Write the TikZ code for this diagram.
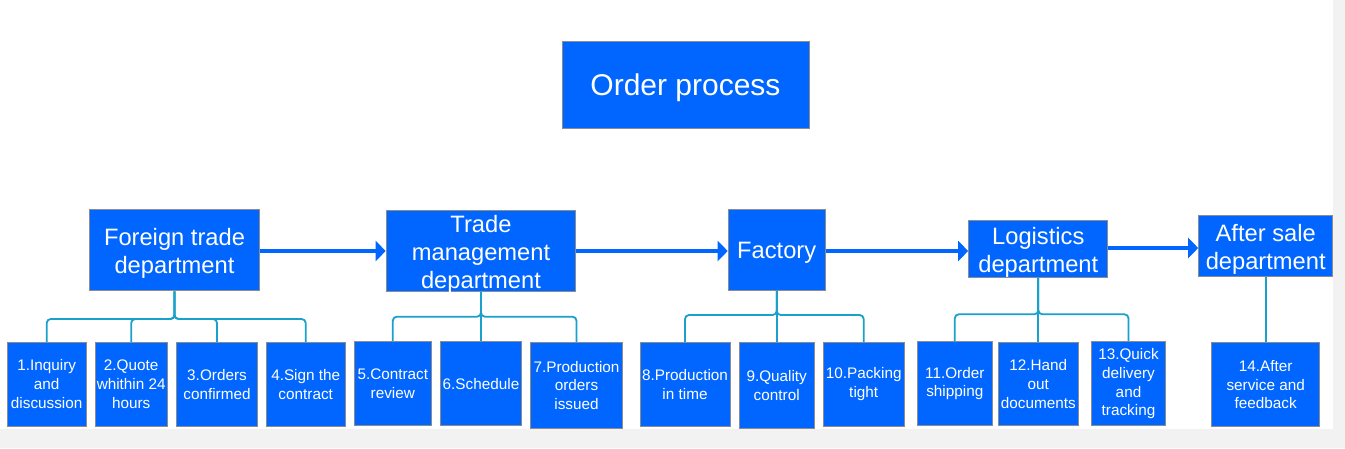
\documentclass[tikz,border=0pt]{standalone}
\usepackage{fontspec}
\setmainfont{Liberation Sans}
\usetikzlibrary{arrows.meta}
\definecolor{boxblue}{RGB}{0,102,255}
\definecolor{boxline}{RGB}{140,140,140}
\definecolor{conncol}{RGB}{25,160,205}
\definecolor{pagegray}{RGB}{242,242,242}
\newcommand{\dstrut}{\rule{0pt}{1.0em}}
\tikzset{
  bbox/.style={draw=boxline, line width=1pt, fill=boxblue, text=white, inner sep=0pt, align=center},
  titlebox/.style={bbox, font=\fontsize{30}{36}\selectfont},
  deptbox/.style={bbox, font=\fontsize{23.7}{28}\selectfont},
  depttext/.style={text=white, inner sep=0pt, align=center, font=\fontsize{23.7}{28}\selectfont},
  taskbox/.style={bbox, font=\fontsize{15.3}{18.7}\selectfont},
  conn/.style={draw=conncol, line width=1.8pt, rounded corners=4pt},
  flow/.style={draw=boxblue, line width=4.5pt, -{Triangle[length=10pt,width=20pt]}}
}
\begin{document}
\begin{tikzpicture}[x=1pt,y=-1pt]
\path[use as bounding box, fill=pagegray] (0,0) rectangle (1345,448);
\fill[white] (0,0) rectangle (1333,429);

% title
\node[titlebox, minimum width=247, minimum height=87] (title) at (685.5,84.5) {\rule{0pt}{0.93em}Order process};

% departments
\node[deptbox, minimum width=169.7, minimum height=81.7] (fd) at (174.5,249.9) {\dstrut Foreign trade\\department};
\node[deptbox, minimum width=189.7, minimum height=80.6] (tm) at (481,251) {};
\node[depttext] (tmlabel) at (481,254.5) {Trade\\management\\department};
\node[deptbox, minimum width=97, minimum height=81] (fa) at (776.7,249.5) {\dstrut Factory};
\node[deptbox, minimum width=139.3, minimum height=55.3] (lg) at (1038.3,248.7) {\dstrut Logistics\\department};
\node[deptbox, minimum width=134, minimum height=61.3] (as) at (1265.7,245.7) {\dstrut After sale\\department};

% flow arrows
\draw[flow] (fd.east |- 0,251) -- (tm.west |- 0,251);
\draw[flow] (tm.east |- 0,251) -- (fa.west |- 0,251);
\draw[flow] (fa.east |- 0,251) -- (lg.west |- 0,251);
\draw[flow] (lg.east |- 0,248) -- (as.west |- 0,248);

% tasks
\node[taskbox, minimum width=78.7, minimum height=83.7] (t1) at (46.7,384.2) {1.Inquiry\\and\\discussion};
\node[taskbox, minimum width=72.3, minimum height=83.7] (t2) at (131.2,384.2) {2.Quote\\whithin 24\\hours};
\node[taskbox, minimum width=80.6, minimum height=83.7] (t3) at (217,384.2) {3.Orders\\confirmed};
\node[taskbox, minimum width=78.7, minimum height=83.7] (t4) at (305.7,384.2) {4.Sign the\\contract};

\node[taskbox, minimum width=77, minimum height=84] (t5) at (392.8,383.7) {5.Contract\\review};
\node[taskbox, minimum width=81.4, minimum height=84] (t6) at (481,383.7) {6.Schedule};
\node[taskbox, minimum width=91.6, minimum height=86] (t7) at (576.5,385.3) {7.Production\\orders\\issued};

\node[taskbox, minimum width=90, minimum height=83.7] (t8) at (685,384.2) {8.Production\\in time};
\node[taskbox, minimum width=75, minimum height=86] (t9) at (776.7,385.3) {9.Quality\\control};
\node[taskbox, minimum width=80.7, minimum height=83.7] (t10) at (863.7,384.2) {10.Packing\\tight};

\node[taskbox, minimum width=75, minimum height=83.3] (t11) at (954.8,383.4) {11.Order\\shipping};
\node[taskbox, minimum width=79.4, minimum height=83] (t12) at (1038.3,384.2) {12.Hand\\out\\documents};
\node[taskbox, minimum width=74.4, minimum height=84.3] (t13) at (1128.5,383.8) {13.Quick\\delivery\\and\\tracking};

\node[taskbox, minimum width=107.6, minimum height=84] (t14) at (1265.7,384.7) {14.After\\service and\\feedback};

% connector bar levels
\coordinate (b1) at (0,319);
\coordinate (b2) at (0,316.7);
\coordinate (b3) at (0,315);
\coordinate (b4) at (0,314.3);

% foreign trade department
\draw[conn] (fd.south) |- (t1.north |- b1) -- (t1.north);
\draw[conn] (fd.south) |- (t2.north |- b1) -- (t2.north);
\draw[conn] (fd.south) |- (t3.north |- b1) -- (t3.north);
\draw[conn] (fd.south) |- (t4.north |- b1) -- (t4.north);

% trade management
\draw[conn] (tm.south) |- (t5.north |- b2) -- (t5.north);
\draw[conn] (tm.south) -- (t6.north);
\draw[conn] (tm.south) |- (t7.north |- b2) -- (t7.north);

% factory
\draw[conn] (fa.south) |- (t8.north |- b3) -- (t8.north);
\draw[conn] (fa.south) -- (t9.north);
\draw[conn] (fa.south) |- (t10.north |- b3) -- (t10.north);

% logistics
\draw[conn] (lg.south) |- (t11.north |- b4) -- (t11.north);
\draw[conn] (lg.south) -- (t12.north);
\draw[conn] (lg.south) |- (t13.north |- b4) -- (t13.north);

% after sale
\draw[conn] (as.south) -- (t14.north);
\end{tikzpicture}
\end{document}
